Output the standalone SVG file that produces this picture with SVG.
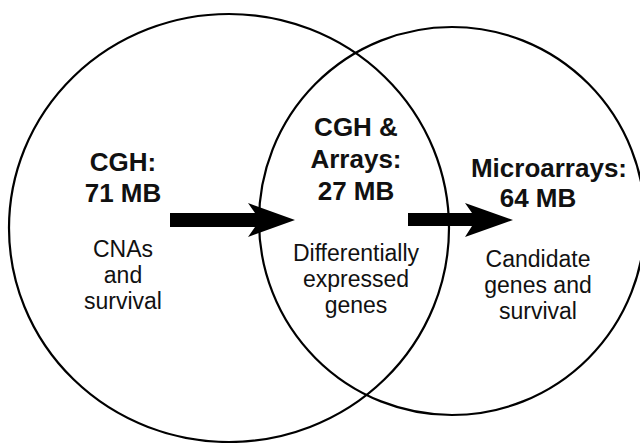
<svg xmlns="http://www.w3.org/2000/svg" width="640" height="443" viewBox="0 0 640 443">
<style>
.set{fill:none;stroke:#000;stroke-width:2.2}
.t{font-family:"Liberation Sans",Arial,sans-serif;text-anchor:middle;fill:#111}
.b{font-weight:bold;font-size:26px}
.n{font-size:23px}
.arr{fill:#000}
</style>
<rect width="640" height="443" fill="#fff"/>
<g id="cgh">
<ellipse class="set" cx="229" cy="228" rx="220" ry="214"/>
<text class="t b" x="123" y="171">CGH:</text>
<text class="t b" x="123" y="202">71 MB</text>
<text class="t n" x="123" y="257">CNAs</text>
<text class="t n" x="123" y="283">and</text>
<text class="t n" x="123" y="309">survival</text>
</g>
<g id="microarrays">
<ellipse class="set" cx="452" cy="221" rx="193" ry="194"/>
<text class="t b" x="549" y="177">Microarrays:</text>
<text class="t b" x="538" y="207">64 MB</text>
<text class="t n" x="538" y="267">Candidate</text>
<text class="t n" x="538" y="293">genes and</text>
<text class="t n" x="538" y="319">survival</text>
</g>
<g id="overlap">
<text class="t b" x="356" y="136">CGH &amp;</text>
<text class="t b" x="356" y="168">Arrays:</text>
<text class="t b" x="356" y="200">27 MB</text>
<text class="t n" x="356" y="261">Differentially</text>
<text class="t n" x="356" y="287">expressed</text>
<text class="t n" x="356" y="313">genes</text>
</g>
<g id="connectors">
<path class="arr" d="M170,213 H255 L248,203 L295,220 L248,237 L255,227 H170 Z"/>
<path class="arr" d="M408,213 H472 L465,203 L513,220 L465,237 L472,226 H408 Z"/>
</g>
</svg>
